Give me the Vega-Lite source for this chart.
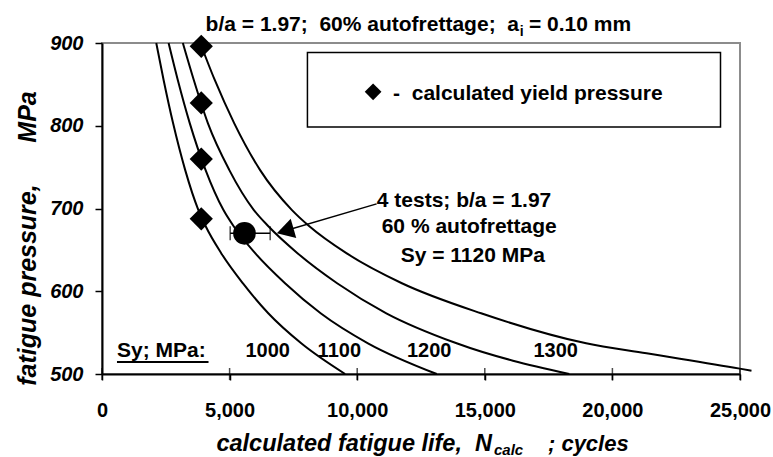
{
  "$schema": "https://vega.github.io/schema/vega-lite/v6.json",
  "width": 638,
  "height": 331,
  "autosize": {"type": "none"},
  "padding": {"left": 102, "top": 43, "right": 33, "bottom": 83},
  "background": "white",
  "config": {
    "view": {"stroke": "#8c8c8c", "strokeWidth": 2},
    "font": "Liberation Sans"
  },
  "encoding": {
    "x": {
      "field": "n", "type": "quantitative",
      "scale": {"domain": [0, 25000], "nice": false, "zero": false},
      "axis": {
        "title": null, "values": [0, 5000, 10000, 15000, 20000, 25000], "format": ",d",
        "grid": false, "labelFont": "Liberation Sans", "labelFontSize": 20, "labelFontWeight": "bold",
        "labelColor": "black", "labelPadding": 20, "tickSize": 6, "tickColor": "black", "tickWidth": 1.5,
        "domainColor": "black", "domainWidth": 2, "labelFlush": false, "labelOverlap": false
      }
    },
    "y": {
      "field": "p", "type": "quantitative",
      "scale": {"domain": [500, 900], "nice": false, "zero": false},
      "axis": {
        "title": "fatigue pressure,\u00a0\u00a0\u00a0\u00a0\u00a0\u00a0MPa",
        "titleFont": "Liberation Sans", "titleFontSize": 25, "titleFontWeight": "bold", "titleFontStyle": "italic",
        "titleColor": "black", "titlePadding": 9, "titleY": 195,
        "values": [500, 600, 700, 800, 900], "grid": false,
        "labelFont": "Liberation Sans", "labelFontSize": 20, "labelFontWeight": "bold", "labelFontStyle": "italic",
        "labelColor": "black", "labelPadding": 12, "tickSize": 7, "tickColor": "black", "tickWidth": 1.5,
        "domainColor": "black", "domainWidth": 2
      }
    }
  },
  "layer": [
    {
      "data": {"values": [{"n": 8050, "n2": 24236, "p": 888.6, "p2": 798.4}]},
      "mark": {"type": "rect", "fill": "white", "stroke": "black", "strokeWidth": 1.5},
      "encoding": {"x2": {"field": "n2"}, "y2": {"field": "p2"}}
    },
    {
      "data": {"values": [
        {"sy": 1000, "n": 2126, "p": 900}, {"sy": 1000, "n": 2412, "p": 855.6}, {"sy": 1000, "n": 2784, "p": 803.2},
        {"sy": 1000, "n": 3258, "p": 746.7}, {"sy": 1000, "n": 3774, "p": 698.4}, {"sy": 1000, "n": 4068, "p": 678.2},
        {"sy": 1000, "n": 4671, "p": 646}, {"sy": 1000, "n": 5517, "p": 609.7}, {"sy": 1000, "n": 6515, "p": 573.4},
        {"sy": 1000, "n": 7807, "p": 537.1}, {"sy": 1000, "n": 9526, "p": 500},
        {"sy": 1100, "n": 2609, "p": 900}, {"sy": 1100, "n": 2967, "p": 855.6}, {"sy": 1100, "n": 3438, "p": 803.2},
        {"sy": 1100, "n": 4056, "p": 746.7}, {"sy": 1100, "n": 4755, "p": 698.4}, {"sy": 1100, "n": 5166, "p": 678.2},
        {"sy": 1100, "n": 6002, "p": 646}, {"sy": 1100, "n": 7172, "p": 609.7}, {"sy": 1100, "n": 8567, "p": 573.4},
        {"sy": 1100, "n": 10422, "p": 537.1}, {"sy": 1100, "n": 13117, "p": 500},
        {"sy": 1200, "n": 3168, "p": 900}, {"sy": 1200, "n": 3594, "p": 855.6}, {"sy": 1200, "n": 4148, "p": 803.2},
        {"sy": 1200, "n": 4985, "p": 746.7}, {"sy": 1200, "n": 5944, "p": 698.4}, {"sy": 1200, "n": 6529, "p": 678.2},
        {"sy": 1200, "n": 7660, "p": 646}, {"sy": 1200, "n": 9213, "p": 609.7}, {"sy": 1200, "n": 11141, "p": 573.4},
        {"sy": 1200, "n": 13896, "p": 537.1}, {"sy": 1200, "n": 18309, "p": 500},
        {"sy": 1300, "n": 3848, "p": 900}, {"sy": 1300, "n": 4414, "p": 855.6}, {"sy": 1300, "n": 5178, "p": 803.2},
        {"sy": 1300, "n": 6190, "p": 746.7}, {"sy": 1300, "n": 7435, "p": 698.4}, {"sy": 1300, "n": 8136, "p": 678.2},
        {"sy": 1300, "n": 9576, "p": 646}, {"sy": 1300, "n": 11751, "p": 609.7}, {"sy": 1300, "n": 14854, "p": 573.4},
        {"sy": 1300, "n": 18971, "p": 537.1}, {"sy": 1300, "n": 21339, "p": 525}, {"sy": 1300, "n": 24992, "p": 506.5},
        {"sy": 1300, "n": 25450, "p": 504}
      ]},
      "mark": {"type": "line", "color": "black", "strokeWidth": 2, "interpolate": "monotone", "clip": false},
      "encoding": {"detail": {"field": "sy"}}
    },
    {
      "data": {"values": [{"n": 3890, "p": 896}, {"n": 3890, "p": 827.5}, {"n": 3890, "p": 759.7}, {"n": 3890, "p": 687.5}]},
      "mark": {"type": "point", "shape": "diamond", "filled": true, "color": "black", "opacity": 1, "size": 540}
    },
    {
      "data": {"values": [{"n": 10623, "p": 841}]},
      "mark": {"type": "point", "shape": "diamond", "filled": true, "color": "black", "opacity": 1, "size": 280}
    },
    {
      "data": {"values": [{"n": 5023, "n2": 6590, "p": 670}]},
      "mark": {"type": "rule", "color": "black", "strokeWidth": 1.5},
      "encoding": {"x2": {"field": "n2"}}
    },
    {
      "data": {"values": [{"n": 5023, "p": 670}, {"n": 6590, "p": 670}]},
      "mark": {"type": "tick", "orient": "vertical", "color": "black", "size": 14, "thickness": 1.5}
    },
    {
      "data": {"values": [{"n": 5583, "p": 670}]},
      "mark": {"type": "point", "shape": "circle", "filled": true, "color": "black", "opacity": 1, "size": 515}
    },
    {
      "data": {"values": [{"n": 10760, "p": 705.6, "n2": 7177, "p2": 673.1}]},
      "mark": {"type": "rule", "color": "black", "strokeWidth": 1.5},
      "encoding": {"x2": {"field": "n2"}, "y2": {"field": "p2"}}
    },
    {
      "data": {"values": [{"n": 7177, "p": 673.1}]},
      "mark": {"type": "point", "shape": "triangle-left", "filled": true, "color": "black", "opacity": 1, "size": 400, "angle": 344}
    },
    {
      "data": {"values": [{"n": 0, "p": 500}, {"n": 5000, "p": 500}, {"n": 10000, "p": 500}, {"n": 15000, "p": 500}, {"n": 20000, "p": 500}, {"n": 25000, "p": 500}]},
      "mark": {"type": "tick", "orient": "vertical", "color": "black", "size": 12, "thickness": 1.5}
    },
    {
      "data": {"values": [{"n": 587, "n2": 4174, "p": 514.5}]},
      "mark": {"type": "rule", "color": "black", "strokeWidth": 2},
      "encoding": {"x2": {"field": "n2"}}
    },
    {
      "data": {"values": [{"n": 16339, "p": 914, "t": "b/a = 1.97;\u00a0 60% autofrettage;\u00a0 a"}]},
      "mark": {"type": "text", "align": "right", "baseline": "alphabetic", "font": "Liberation Sans", "fontSize": 21, "fontWeight": "bold", "color": "black"},
      "encoding": {"text": {"field": "t"}}
    },
    {
      "data": {"values": [{"n": 16367, "p": 908.8, "t": "i"}]},
      "mark": {"type": "text", "align": "left", "baseline": "alphabetic", "font": "Liberation Sans", "fontSize": 14, "fontWeight": "bold", "color": "black"},
      "encoding": {"text": {"field": "t"}}
    },
    {
      "data": {"values": [
        {"n": 16731, "p": 914, "t": "= 0.10 mm"},
        {"n": 11406, "p": 831.4, "t": "-"},
        {"n": 12137, "p": 831.4, "t": "calculated yield pressure"},
        {"n": 587, "p": 520.9, "t": "Sy; MPa:"}
      ]},
      "mark": {"type": "text", "align": "left", "baseline": "alphabetic", "font": "Liberation Sans", "fontSize": 21, "fontWeight": "bold", "color": "black"},
      "encoding": {"text": {"field": "t"}}
    },
    {
      "data": {"values": [
        {"n": 14186, "p": 702.4, "t": "4 tests; b/a = 1.97"},
        {"n": 14389, "p": 670.2, "t": "60 % autofrettage"},
        {"n": 14530, "p": 635.8, "t": "Sy = 1120 MPa"}
      ]},
      "mark": {"type": "text", "align": "center", "baseline": "alphabetic", "font": "Liberation Sans", "fontSize": 21, "fontWeight": "bold", "color": "black"},
      "encoding": {"text": {"field": "t"}}
    },
    {
      "data": {"values": [
        {"n": 6492, "p": 520.9, "t": "1000"},
        {"n": 9299, "p": 520.9, "t": "1100"},
        {"n": 12823, "p": 520.9, "t": "1200"},
        {"n": 17780, "p": 520.9, "t": "1300"}
      ]},
      "mark": {"type": "text", "align": "center", "baseline": "alphabetic", "font": "Liberation Sans", "fontSize": 20, "fontWeight": "bold", "color": "black"},
      "encoding": {"text": {"field": "t"}}
    },
    {
      "data": {"values": [{"n": 15282, "p": 406.8, "t": "calculated fatigue life,\u00a0 N"}]},
      "mark": {"type": "text", "align": "right", "baseline": "alphabetic", "font": "Liberation Sans", "fontSize": 23.5, "fontWeight": "bold", "fontStyle": "italic", "color": "black"},
      "encoding": {"text": {"field": "t"}}
    },
    {
      "data": {"values": [{"n": 15360, "p": 402, "t": "calc"}]},
      "mark": {"type": "text", "align": "left", "baseline": "alphabetic", "font": "Liberation Sans", "fontSize": 15, "fontWeight": "bold", "fontStyle": "italic", "color": "black"},
      "encoding": {"text": {"field": "t"}}
    },
    {
      "data": {"values": [{"n": 17475, "p": 406.8, "t": "; cycles"}]},
      "mark": {"type": "text", "align": "left", "baseline": "alphabetic", "font": "Liberation Sans", "fontSize": 22, "fontWeight": "bold", "fontStyle": "italic", "color": "black"},
      "encoding": {"text": {"field": "t"}}
    }
  ]
}
